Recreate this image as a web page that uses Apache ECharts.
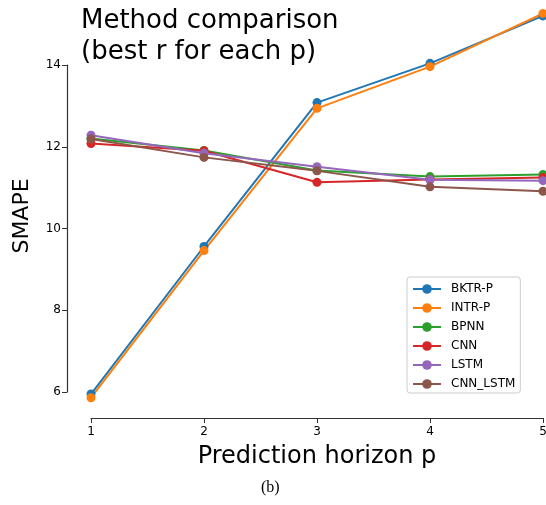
<!DOCTYPE html>
<html>
<head>
<meta charset="utf-8">
<script src="https://cdn.jsdelivr.net/npm/echarts@6/dist/echarts.min.js"></script>
<style>
  html, body { margin: 0; padding: 0; background: #fff; }
  #chart { width: 546px; height: 505px; }
</style>
</head>
<body>
<div id="chart"></div>
<script>
// data
const horizons = [1, 2, 3, 4, 5]
const bktrP = [5.95, 9.56, 13.08, 14.04, 15.20]
const intrP = [5.86, 9.46, 12.94, 13.96, 15.26]
const bpnn = [12.20, 11.91, 11.42, 11.27, 11.32]
const cnn = [12.08, 11.90, 11.13, 11.20, 11.25]
const lstm = [12.28, 11.84, 11.51, 11.19, 11.17]
const cnnLstm = [12.19, 11.74, 11.41, 11.02, 10.91]
const yTicks = [6, 8, 10, 12, 14]

const colors = ['#1f77b4', '#ff7f0e', '#2ca02c', '#d62728', '#9467bd', '#8c564b']
const names = ['BKTR-P', 'INTR-P', 'BPNN', 'CNN', 'LSTM', 'CNN_LSTM']
const values = [bktrP, intrP, bpnn, cnn, lstm, cnnLstm]

const font = 'DejaVu Sans'
const chart = echarts.init(document.getElementById('chart'))

const option = {
    backgroundColor: '#ffffff',
    animation: false,
    color: colors,
    textStyle: { fontFamily: font },
    title: {
        text: 'Method comparison\n(best r for each p)',
        left: 76,
        top: 1,
        textStyle: {
            fontFamily: font,
            fontSize: 26,
            fontWeight: 'normal',
            color: '#000',
            lineHeight: 31
        }
    },
    legend: {
        orient: 'vertical',
        left: 407,
        top: 277,
        itemWidth: 28,
        itemHeight: 12,
        itemGap: 7,
        padding: [6, 5, 3, 5],
        borderColor: '#cccccc',
        borderWidth: 1,
        borderRadius: 3,
        backgroundColor: '#fff',
        textStyle: { fontFamily: font, fontSize: 12, color: '#000', padding: [0, 0, 0, 5] },
        data: names
    },
    grid: {
        left: 91,
        right: 3,
        top: 65,
        bottom: 113,
        outerBoundsMode: 'none',
        containLabel: false
    },
    xAxis: {
        type: 'value',
        min: 1,
        max: 5,
        interval: 1,
        offset: 26,
        name: 'Prediction horizon p',
        nameLocation: 'middle',
        nameGap: 27,
        nameTextStyle: { fontFamily: font, fontSize: 24, color: '#000' },
        axisLine: { show: true, lineStyle: { color: '#333', width: 1.2 } },
        axisTick: { show: true, length: 5, lineStyle: { color: '#333' } },
        axisLabel: { color: '#000', fontSize: 12, margin: 8 },
        splitLine: { show: false }
    },
    yAxis: {
        type: 'value',
        min: 6,
        max: 14,
        interval: 2,
        offset: 24,
        axisLine: { show: true, lineStyle: { color: '#333', width: 1.2 } },
        axisTick: { show: true, length: 5, lineStyle: { color: '#333' } },
        axisLabel: {
            color: '#000',
            fontSize: 12,
            margin: 6,
            formatter: v => yTicks.includes(v) ? String(v) : ''
        },
        splitLine: { show: false }
    },
    graphic: [{
        type: 'text',
        x: 22,
        y: 216,
        rotation: Math.PI / 2,
        style: {
            text: 'SMAPE',
            font: '22px "DejaVu Sans"',
            fill: '#000',
            align: 'center',
            verticalAlign: 'middle'
        }
    }, {
        type: 'text',
        left: 261,
        top: 480,
        style: {
            text: '(b)',
            font: '16px "Liberation Serif", "DejaVu Serif", serif',
            fill: '#000'
        }
    }],
    series: names.map((n, i) => ({
        name: n,
        type: 'line',
        clip: false,
        symbol: 'circle',
        symbolSize: 9,
        lineStyle: { width: 2, color: colors[i] },
        itemStyle: { color: colors[i] },
        data: horizons.map((h, j) => [h, values[i][j]])
    }))
}

chart.setOption(option)
</script>
</body>
</html>
